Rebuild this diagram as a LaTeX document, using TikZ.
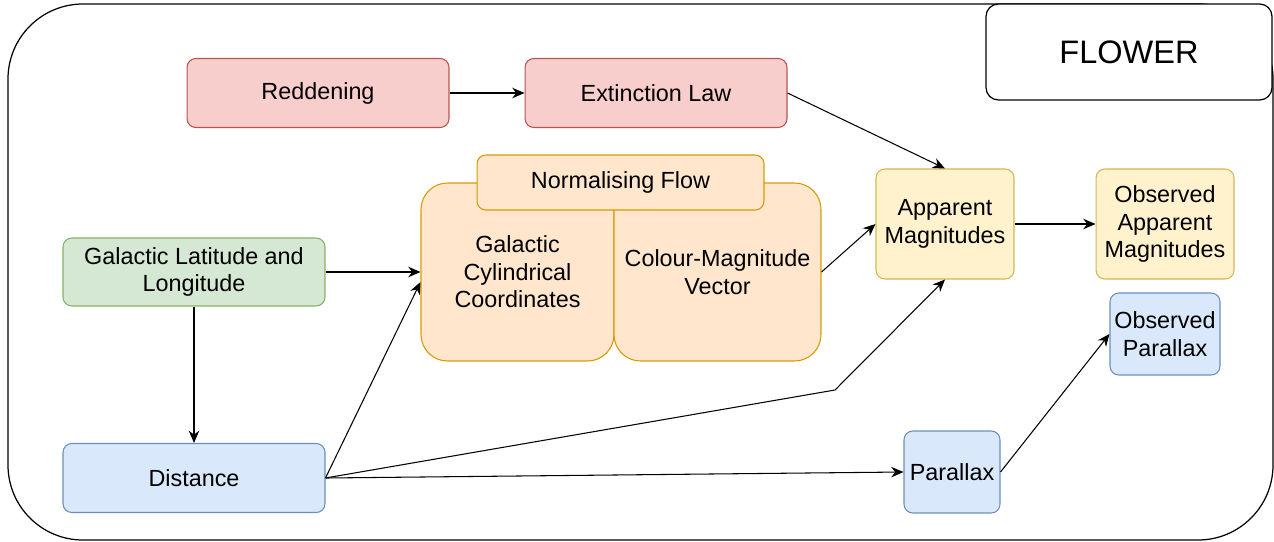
\documentclass[tikz,border=0pt]{standalone}
\usepackage{fontspec}
\setmainfont{Liberation Sans}
\usetikzlibrary{arrows.meta, positioning}
\definecolor{redfill}{HTML}{F8CECC}
\definecolor{redline}{HTML}{B85450}
\definecolor{greenfill}{HTML}{D5E8D4}
\definecolor{greenline}{HTML}{82B366}
\definecolor{bluefill}{HTML}{DAE8FC}
\definecolor{blueline}{HTML}{6C8EBF}
\definecolor{orangefill}{HTML}{FFE6CC}
\definecolor{orangeline}{HTML}{D79B00}
\definecolor{yellowfill}{HTML}{FFF2CC}
\definecolor{yellowline}{HTML}{D6B656}

\begin{document}
\begin{tikzpicture}[x=0.02cm, y=-0.02cm, >={Stealth[length=7pt, width=6pt]},
    box/.style={rounded corners=5pt, line width=0.6pt, align=center, inner sep=0pt,
        font=\fontsize{13.3}{15.6}\selectfont},
    redbox/.style={box, fill=redfill, draw=redline},
    greenbox/.style={box, fill=greenfill, draw=greenline},
    bluebox/.style={box, fill=bluefill, draw=blueline},
    orangebox/.style={box, fill=orangefill, draw=orangeline},
    yellowbox/.style={box, fill=yellowfill, draw=yellowline},
    flowbox/.style={orangebox, rounded corners=15pt},
    link/.style={->, line width=0.6pt}]
    \useasboundingbox (0,0) rectangle (1274,541);

    % Outer frame
    \draw[line width=0.7pt, rounded corners=1.5cm] (8,4) rectangle (1273,540);
    \node[draw, line width=0.7pt, rounded corners=7pt, minimum width=5.72cm, minimum height=1.92cm,
        fill=white, font=\fontsize{18.5}{22}\selectfont] (flower) at (1129,52) {FLOWER};

    % Extinction
    \node[redbox, minimum width=5.24cm, minimum height=1.38cm] (redden) at (318,93) {Reddening};
    \node[redbox, minimum width=5.24cm, minimum height=1.38cm] (extlaw) at (656,93) {Extinction Law};

    % Inputs
    \node[greenbox, minimum width=5.24cm, minimum height=1.36cm] (latlon) at (194,272)
        {Galactic Latitude and\\Longitude};
    \node[bluebox, minimum width=5.24cm, minimum height=1.38cm] (dist) at (194,478) {Distance};

    % Normalising flow
    \node[flowbox, minimum width=3.86cm, minimum height=3.56cm] (cyl) at (517.5,272)
        {Galactic\\Cylindrical\\Coordinates};
    \node[flowbox, minimum width=4.14cm, minimum height=3.56cm] (cmv) at (717.5,272)
        {Colour-Magnitude\\Vector};
    \node[orangebox, minimum width=5.74cm, minimum height=1.1cm] (nflow) at (620.5,182.5)
        {Normalising Flow};

    % Outputs
    \node[yellowbox, minimum width=2.76cm, minimum height=2.2cm] (appmag) at (945,224)
        {Apparent\\Magnitudes};
    \node[yellowbox, minimum width=2.76cm, minimum height=2.2cm] (obsmag) at (1165,224)
        {Observed\\Apparent\\Magnitudes};
    \node[bluebox, minimum width=2.2cm, minimum height=1.64cm] (obspar) at (1165,334)
        {Observed\\Parallax};
    \node[bluebox, minimum width=1.92cm, minimum height=1.64cm] (parallax) at (952,472) {Parallax};

    % Links
    \coordinate (bend) at (835,390);
    \draw[link] (redden) -- (extlaw);
    \draw[link] (extlaw.east) -- (appmag.north);
    \draw[link] (latlon.east) -- (latlon.east -| cyl.west);
    \draw[link] (latlon) -- (dist);
    \draw[link] (dist.east) -- ([yshift=-0.2cm]cyl.west);
    \draw[link] (dist.east) -- (bend) -- (appmag.south);
    \draw[link] (dist.east) -- (parallax.west);
    \draw[link] (cmv.east) -- (appmag.west);
    \draw[link] (appmag) -- (obsmag);
    \draw[link] (parallax.east) -- (obspar.west);
\end{tikzpicture}
\end{document}
